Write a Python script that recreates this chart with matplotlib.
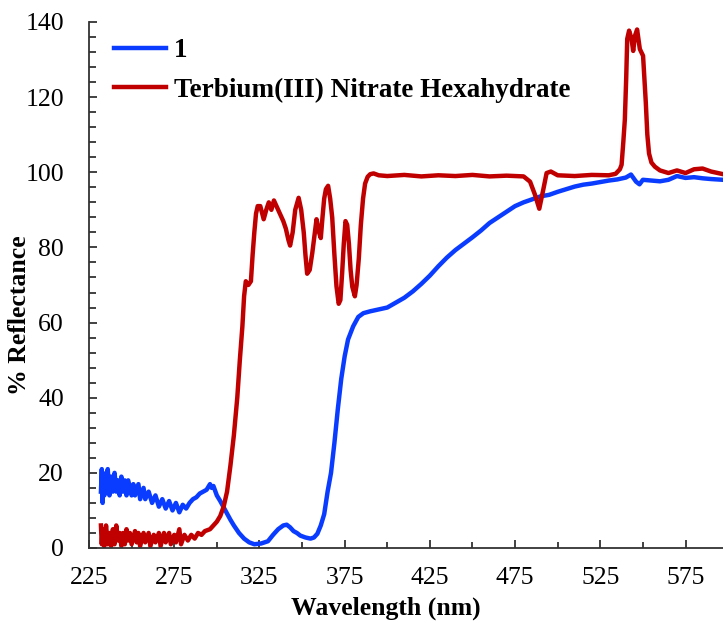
import matplotlib
matplotlib.use("Agg")
import matplotlib.pyplot as plt
from matplotlib.ticker import MultipleLocator

plt.rcParams['font.family'] = ['Liberation Serif', 'DejaVu Serif']

# ---- data ----
blue_wl = [232, 232.5, 233, 233.5, 234, 235, 235.5, 236, 237, 238, 239, 240, 241, 242, 243, 244, 245, 246,
           247, 248, 250, 251, 252, 254, 255, 257, 258, 260, 262, 264, 266, 268, 270, 272, 274, 276, 278,
           280, 282, 284, 286, 288, 290, 292, 294, 296, 297, 298, 300, 302, 305, 308, 310, 313, 316, 319,
           322, 326, 330, 333, 336, 339, 341, 343, 345, 347, 349, 352, 355, 357, 359, 361, 363, 365, 367,
           369, 371, 373, 375, 377, 380, 383, 386, 390, 395, 400, 405, 410, 415, 420, 425, 430, 435, 440,
           445, 450, 455, 460, 465, 470, 475, 480, 485, 490, 495, 500, 505, 510, 515, 520, 525, 530, 535,
           540, 543, 546, 548, 550, 555, 560, 565, 570, 575, 580, 585, 590, 597]
blue_r = [15, 21, 12, 19, 14, 20, 15, 21, 14, 19, 15, 20, 15, 18, 14, 19, 15, 18,
          14, 18, 14, 17, 14, 17, 13, 16, 13, 15, 12, 14, 11, 13, 10.5, 12.5, 10, 12, 9.5,
          11.5, 10.5, 12, 13, 13.5, 14.5, 15, 15.5, 17, 16, 16.5, 14, 12.5, 10, 7.5, 6, 4, 2.5, 1.5,
          1, 1.2, 1.8, 3.5, 5, 6, 6.2, 5.5, 4.5, 4, 3.3, 2.8, 2.5, 2.8, 3.8, 6, 9, 15, 20,
          28, 37, 45, 51, 55.5, 59, 61.5, 62.5, 63, 63.5, 64, 65.3, 66.6, 68.3, 70.3, 72.5, 75, 77.3, 79.3,
          81, 82.7, 84.5, 86.5, 88, 89.5, 91, 92, 92.8, 93.6, 94, 94.8, 95.5, 96.2, 96.7, 97, 97.4, 97.8, 98.1,
          98.6, 99.4, 97.5, 96.8, 98, 97.8, 97.6, 98, 99, 98.5, 98.7, 98.4, 98.2, 98]

red_wl = [232, 232.5, 233, 234, 235, 236, 237, 238, 239, 240, 241, 242, 243, 244, 245, 246, 247, 248, 249,
          250, 252, 253, 254, 255, 257, 258, 260, 261, 263, 264, 266, 267, 269, 270, 272, 273, 275, 276,
          278, 279, 281, 283, 285, 287, 289, 291, 293, 296, 298, 300, 302, 304, 306, 308, 310, 312, 313.5,
          315, 316, 317, 318.5, 320, 321, 322, 323, 324, 325.5, 327.5, 329, 330.5, 332, 333.5, 335, 337,
          339, 340.5, 342, 343, 344.5, 346, 348, 349.5, 351, 352, 353, 354.5, 356, 357.5, 358.5, 360, 361,
          362, 363, 364, 365.3, 366.5, 367.7, 369, 370.2, 371.5, 372.5, 373.5, 374.5, 375.5, 376.5, 377.5,
          378.5, 379.5, 381, 382, 383.3, 384.5, 385.8, 387, 388.5, 390, 392, 395, 400, 410, 420, 430, 440,
          450, 460, 470, 480, 483.8, 486.7, 489.2, 491.6, 493.5, 496, 500, 510, 520, 530, 534, 536.5, 537.5,
          538.5, 539.4, 540.2, 540.8, 541.9, 543.3, 544.3, 545.4, 546.6, 547.5, 548.2, 550.1, 551, 551.7,
          552.6, 553.6, 555, 557, 560, 565, 570, 575, 580, 585, 590, 597]
red_r = [6, 1, 5, 0.5, 6, 1, 4, 0.5, 5, 1, 6, 2, 4, 0.5, 4, 1, 5, 2, 4,
         1, 4.5, 1.5, 4, 0.5, 4, 1.5, 4, 0.5, 3.5, 1.5, 4, 0.5, 4, 1.5, 4, 1, 3.5, 1.5,
         5, 1, 3.5, 2, 3.5, 2.5, 4, 3.5, 4.5, 5, 6, 7, 8.5, 11, 15, 22, 30, 40, 50,
         59, 67, 71, 70, 71, 78, 84, 89, 91, 91, 87.5, 90, 92, 90, 92.5, 91, 89,
         87, 85, 82, 80.5, 84, 90, 93.2, 90, 84, 78, 73, 74, 78.5, 84, 87.5, 84, 82.5,
         88, 93, 95.5, 96.4, 93, 88, 78, 69.7, 65, 66, 73, 81, 87, 86, 81,
         74, 69.5, 67, 70, 77, 86, 93, 97, 98.8, 99.5, 99.7, 99.2, 99.0, 99.3, 98.9, 99.2, 99.0,
         99.3, 98.9, 99.1, 98.9, 97.5, 94, 90.3, 95.5, 99.8, 100.2, 99.2, 99.0, 99.3, 99.2, 99.6, 100.8, 102,
         108, 114, 125, 135.5, 137.7, 135.6, 132.3, 136.4, 138, 135, 132.8, 131, 124, 118.6,
         110, 105, 102.6, 101.5, 100.5, 99.8, 100.5, 99.8, 100.8, 101, 100.2, 99.5]

series_labels = ["1", "Terbium(III) Nitrate Hexahydrate"]
x_ticks = [225, 275, 325, 375, 425, 475, 525, 575]
y_ticks = [0, 20, 40, 60, 80, 100, 120, 140]

# ---- figure ----
fig = plt.figure(figsize=(7.23, 6.28), dpi=100)
ax = fig.add_axes([89 / 723, 1 - 548 / 628, 1 - 89 / 723, (548 - 22) / 628])

ax.plot(blue_wl, blue_r, color="#0a3cff", lw=3.2, label=series_labels[0], solid_joinstyle="round")
ax.plot(red_wl, red_r, color="#c00000", lw=3.2, label=series_labels[1], solid_joinstyle="round")

ax.set_xlim(225, 597)
ax.set_ylim(0, 140)
ax.set_xticks(x_ticks)
ax.set_yticks(y_ticks)
ax.xaxis.set_minor_locator(MultipleLocator(25))
ax.yaxis.set_minor_locator(MultipleLocator(4))

for s in ["top", "right"]:
    ax.spines[s].set_visible(False)
for s in ["left", "bottom"]:
    ax.spines[s].set_linewidth(1.3)
    ax.spines[s].set_color("#333333")

ax.tick_params(axis="x", which="major", direction="in", length=6, width=1.3, pad=14,
               labelsize=18.5, color="#333333")
ax.tick_params(axis="x", which="minor", direction="in", length=4, width=1.3, color="#333333")
ax.tick_params(axis="y", which="major", direction="in", length=6, width=1.3, pad=18,
               labelsize=18.5, color="#333333")
ax.tick_params(axis="y", which="minor", direction="in", length=5, width=1.3, color="#333333")

ax.set_xlabel("Wavelength (nm)", fontsize=18.5, fontweight="bold")
ax.set_ylabel("% Reflectance", fontsize=18.5, fontweight="bold")
ax.xaxis.set_label_coords((386 - 89) / 634, -(597 - 548) / 526)
ax.yaxis.set_label_coords(-(89 - 31) / 634, (548 - 315) / 526)

leg = ax.legend(loc="upper left", bbox_to_anchor=(0.01, 1.005), frameon=False,
                prop={"weight": "bold", "size": 19.5}, handlelength=1.9, handletextpad=0.3,
                labelspacing=0.52, borderaxespad=0.3)

fig.savefig("out.png", dpi=100)
